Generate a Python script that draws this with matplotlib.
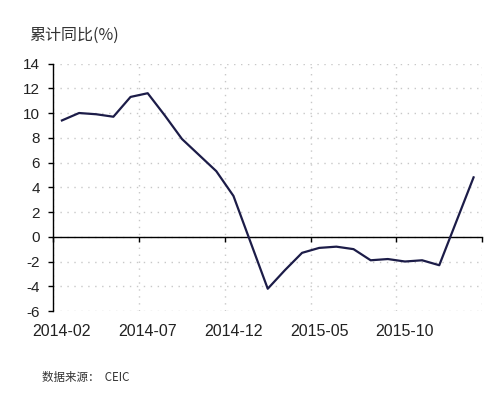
import matplotlib

matplotlib.use("Agg")
import matplotlib.pyplot as plt

plt.rcParams["font.family"] = ["Liberation Sans", "Noto Sans CJK SC", "DejaVu Sans"]
plt.rcParams["axes.unicode_minus"] = False

# cumulative y/y, monthly (Jan figures folded into Feb)
months = [
    "2014-02", "2014-03", "2014-04", "2014-05", "2014-06", "2014-07", "2014-08",
    "2014-09", "2014-10", "2014-11", "2014-12", "2015-02", "2015-03", "2015-04",
    "2015-05", "2015-06", "2015-07", "2015-08", "2015-09", "2015-10", "2015-11",
    "2015-12", "2016-02",
]
values = [
    9.4, 10.0, 9.9, 9.7, 11.3, 11.6, 9.8,
    7.9, 6.6, 5.3, 3.3, -4.2, -2.7, -1.3,
    -0.9, -0.8, -1.0, -1.9, -1.8, -2.0, -1.9,
    -2.3, 4.8,
]
tick_labels = ["2014-02", "2014-07", "2014-12", "2015-05", "2015-10"]
y_ticks = list(range(-6, 15, 2))


def month_pos(s: str) -> float:
    y, m = s.split("-")
    return (int(y) - 2014) * 12 + int(m) - 2


xs = [month_pos(m) + 0.5 for m in months]

fig = plt.figure(figsize=(4.94, 3.97), dpi=100)
ax = fig.add_axes([0.108, 0.2166, 0.868, 0.6234])

ax.plot(xs, values, color="#1c1c48", lw=1.6, zorder=3)

ax.set_xlim(0, 25)
ax.set_ylim(-6, 14)
ax.set_yticks(y_ticks)
ax.set_yticklabels([str(v) for v in y_ticks])

bounds = [0, 5, 10, 15, 20, 25]
ax.set_xticks(bounds)
ax.set_xticklabels([])
ax.grid(True, color="#c8c8c8", linestyle=(0, (1, 4)), lw=1)
ax.set_axisbelow(True)

for s in ("top", "right"):
    ax.spines[s].set_visible(False)
ax.spines["bottom"].set_position(("data", 0))
ax.spines["bottom"].set_color("black")
ax.spines["bottom"].set_linewidth(1.0)
ax.spines["left"].set_color("black")
ax.spines["left"].set_linewidth(1.0)
ax.tick_params(axis="x", direction="out", length=3.5, width=1, color="black")
ax.tick_params(axis="y", direction="out", length=3.5, width=1, color="black",
               pad=6, labelsize=11, labelcolor="#222222")

# date labels sit at the bottom edge, centred on the month points
sec = ax.secondary_xaxis("bottom")
sec.spines["bottom"].set_visible(False)
sec.set_xticks([month_pos(t) + 0.5 for t in tick_labels])
sec.set_xticklabels(tick_labels)
sec.tick_params(length=0, pad=9, labelsize=11.5, labelcolor="#222222")

fig.text(0.059, 0.912, "累计同比(%)", fontsize=11.5, color="#333333",
         family=["Noto Sans CJK SC", "DejaVu Sans"], va="center", ha="left")
fig.text(0.085, 0.048, "数据来源：  CEIC", fontsize=8.3, color="#333333",
         family=["Noto Sans CJK SC", "DejaVu Sans"], va="center", ha="left")

fig.savefig("out.png", dpi=100)
